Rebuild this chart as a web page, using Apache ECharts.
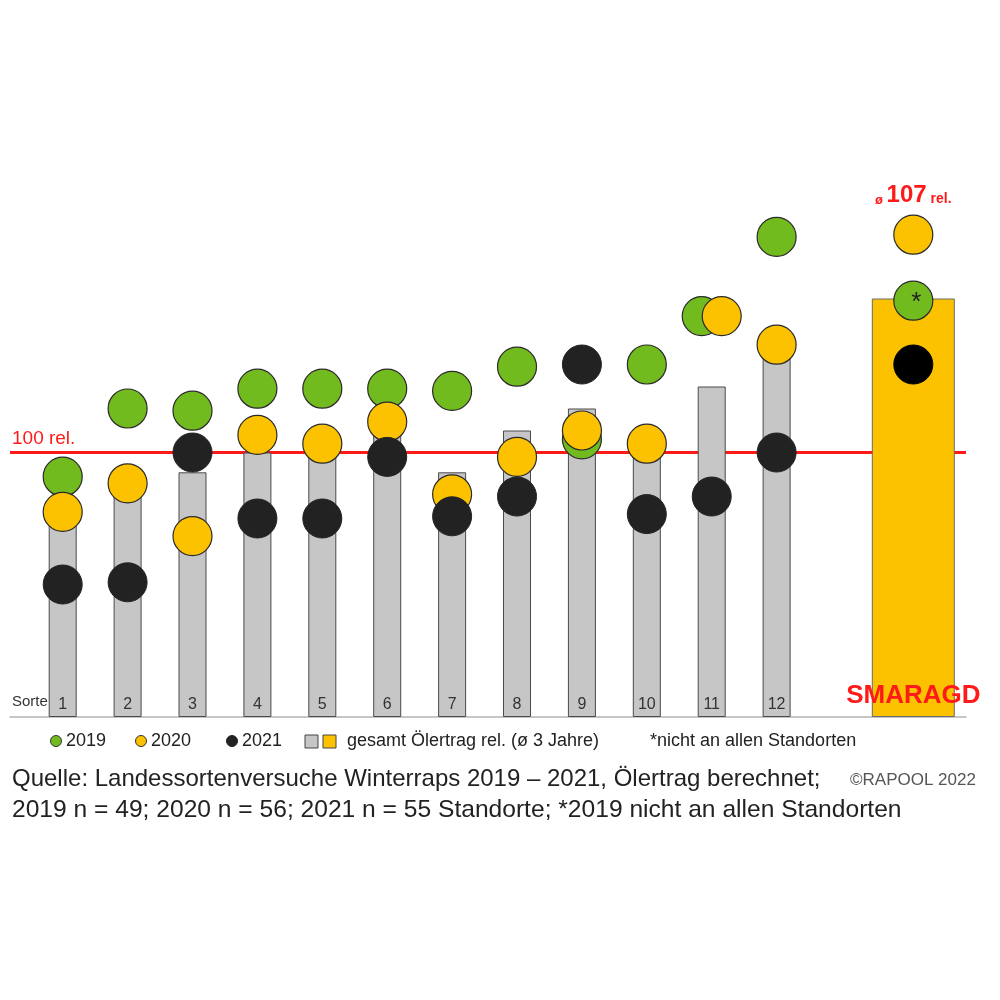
<!DOCTYPE html>
<html>
<head>
<meta charset="utf-8">
<script src="https://cdn.jsdelivr.net/npm/echarts@6/dist/echarts.min.js"></script>
<style>
html,body{margin:0;padding:0;background:#fff;}
#chart{width:1000px;height:1000px;}
</style>
</head>
<body>
<div id="chart"></div>
<script>
// ---- data ----
const sorten = ['1','2','3','4','5','6','7','8','9','10','11','12'];
const avgRel = [96.7, 98.2, 99.1, 100.0, 99.9, 101.0, 99.1, 101.0, 102.0, 100.5, 103.0, 104.8];
const rel2019 = [98.9, 102.0, 101.9, 102.9, 102.9, 102.9, 102.8, 103.9, 100.6, 104.0, 106.2, 109.8];
const rel2020 = [97.3, 98.6, 96.2, 100.8, 100.4, 101.4, 98.1, 99.8, 101.0, 100.4, 106.2, 104.9];
const rel2021 = [94.0, 94.1, 100.0, 97.0, 97.0, 99.8, 97.1, 98.0, 104.0, 97.2, 98.0, 100.0];
const smaragdName = 'SMARAGD';
const smaragdAvg = 107;
const smaragd2019 = 106.9;
const smaragd2020 = 109.9;
const smaragd2021 = 104.0;
const refLevel = 100;
const yearNames = ['2019','2020','2021'];
const legendBarText = 'gesamt Ölertrag rel. (ø 3 Jahre)';
const noteText = '*nicht an allen Standorten';
const sourceLine1 = 'Quelle: Landessortenversuche Winterraps 2019 – 2021, Ölertrag berechnet;';
const sourceLine2 = '2019 n = 49; 2020 n = 56; 2021 n = 55 Standorte; *2019 nicht an allen Standorten';
const copyright = '©RAPOOL 2022';

// ---- styling ----
const GREEN = '#72bb1f', YELLOW = '#fcc200', DARK = '#222222', GRAY = '#c6c6c6', RED = '#ff1a1a';
const FONT = 'Liberation Sans';
const smaragdPos = sorten.length + 2; // one empty slot after the last variety

const chart = echarts.init(document.getElementById('chart'), null, {renderer: 'canvas'});

function pts(arr) { return arr.map((v, i) => [i + 1, v]); }

const g19 = pts(rel2019).map((p, i) => i === 10 ? {value: p, symbolOffset: [-10, 0]} : {value: p});
const y20 = pts(rel2020).map((p, i) => i === 10 ? {value: p, symbolOffset: [10, 0]} : {value: p});
const b21 = pts(rel2021);

const smaragdPoints = [
  {value: [smaragdPos, smaragd2019], itemStyle: {color: GREEN, borderColor: '#2a2a2a', borderWidth: 1.2},
   label: {show: true, position: 'inside', formatter: '*', fontSize: 26, color: '#222', offset: [3, 2], fontFamily: FONT}},
  {value: [smaragdPos, smaragd2020], itemStyle: {color: YELLOW, borderColor: '#2a2a2a', borderWidth: 1.2},
   label: {show: true, position: 'top', distance: 7,
    formatter: '{a|ø }{b|' + smaragdAvg + '}{c| rel.}',
    rich: {a: {fontSize: 13, fontWeight: 'bold', color: RED, fontFamily: FONT, verticalAlign: 'bottom', padding: [0,0,1,0]},
           b: {fontSize: 24, fontWeight: 'bold', color: RED, fontFamily: FONT},
           c: {fontSize: 14, fontWeight: 'bold', color: RED, fontFamily: FONT, verticalAlign: 'bottom', padding: [0,0,1,0]}}}},
  {value: [smaragdPos, smaragd2021], itemStyle: {color: '#000', borderColor: '#000', borderWidth: 1}}
];

const xAxisBase = {type: 'value', splitLine: {show: false}, axisTick: {show: false}, axisLabel: {show: false}};

const option = {
  backgroundColor: '#fff',
  animation: false,
  grid: {left: 10, right: 34, top: 100.5, bottom: 283.5},
  xAxis: [
    Object.assign({}, xAxisBase, {min: 0.188, max: 14.918, axisLine: {show: true, onZero: false, lineStyle: {color: '#b4b4b4', width: 1.5}}}),
    Object.assign({}, xAxisBase, {min: 0.082, max: 14.812, axisLine: {show: false}})
  ],
  yAxis: {type: 'value', min: 88, max: 116, show: false, splitLine: {show: false}},
  series: [
    {
      type: 'line', data: [], z: 1,
      markLine: {silent: true, symbol: 'none', z: 1, label: {show: false},
        lineStyle: {color: RED, width: 3, type: 'solid'}, data: [{yAxis: refLevel}]}
    },
    {
      name: legendBarText, type: 'bar', xAxisIndex: 0, barWidth: 28, z: 2,
      data: avgRel.map((v, i) => [i + 1, v]),
      itemStyle: {color: GRAY, borderColor: '#4a4a4a', borderWidth: 1},
      label: {show: true, position: 'insideBottom', distance: 4, color: '#333', fontSize: 16, fontFamily: FONT,
        formatter: p => sorten[p.dataIndex]}
    },
    {
      name: smaragdName, type: 'bar', xAxisIndex: 1, barWidth: 83, z: 2,
      data: [[smaragdPos, smaragdAvg]],
      itemStyle: {color: YELLOW, borderColor: '#6a6a6a', borderWidth: 1},
      label: {show: true, position: 'insideBottom', distance: 8, color: RED, fontSize: 26, fontWeight: 'bold', fontFamily: FONT,
        formatter: smaragdName}
    },
    {
      name: yearNames[0], type: 'scatter', xAxisIndex: 0, symbol: 'circle', symbolSize: 39, z: 3, data: g19,
      itemStyle: {color: GREEN, borderColor: '#2a2a2a', borderWidth: 1.2, opacity: 1}
    },
    {
      name: yearNames[1], type: 'scatter', xAxisIndex: 0, symbol: 'circle', symbolSize: 39, z: 4, data: y20,
      itemStyle: {color: YELLOW, borderColor: '#2a2a2a', borderWidth: 1.2, opacity: 1}
    },
    {
      name: yearNames[2], type: 'scatter', xAxisIndex: 0, symbol: 'circle', symbolSize: 39, z: 5, data: b21,
      itemStyle: {color: DARK, borderColor: DARK, borderWidth: 1, opacity: 1}
    },
    {
      name: smaragdName + ' ' + yearNames.join('/'), type: 'scatter', xAxisIndex: 1, symbol: 'circle', symbolSize: 39, z: 5,
      data: smaragdPoints, itemStyle: {opacity: 1}
    }
  ],
  graphic: [
    {type: 'text', left: 12, top: 429, style: {text: refLevel + ' rel.', fill: RED, font: '19px "' + FONT + '"'}},
    {type: 'text', left: 12, top: 694, style: {text: 'Sorte', fill: '#333', font: '15px "' + FONT + '"'}},
    // legend
    {type: 'circle', shape: {cx: 56, cy: 741, r: 5.5}, style: {fill: GREEN, stroke: '#333', lineWidth: 1}},
    {type: 'text', left: 66, top: 732, style: {text: yearNames[0], fill: '#222', font: '18px "' + FONT + '"'}},
    {type: 'circle', shape: {cx: 141, cy: 741, r: 5.5}, style: {fill: YELLOW, stroke: '#333', lineWidth: 1}},
    {type: 'text', left: 151, top: 732, style: {text: yearNames[1], fill: '#222', font: '18px "' + FONT + '"'}},
    {type: 'circle', shape: {cx: 232, cy: 741, r: 5.5}, style: {fill: DARK, stroke: DARK, lineWidth: 1}},
    {type: 'text', left: 242, top: 732, style: {text: yearNames[2], fill: '#222', font: '18px "' + FONT + '"'}},
    {type: 'rect', shape: {x: 305, y: 735, width: 13, height: 13}, style: {fill: GRAY, stroke: '#444', lineWidth: 1}},
    {type: 'rect', shape: {x: 323, y: 735, width: 13, height: 13}, style: {fill: YELLOW, stroke: '#444', lineWidth: 1}},
    {type: 'text', left: 347, top: 732, style: {text: legendBarText, fill: '#222', font: '18px "' + FONT + '"'}},
    {type: 'text', left: 650, top: 732, style: {text: noteText, fill: '#222', font: '18px "' + FONT + '"'}},
    // source
    {type: 'text', left: 12, top: 767, style: {text: sourceLine1, fill: '#222', font: '24px "' + FONT + '"'}},
    {type: 'text', left: 12, top: 798, style: {text: sourceLine2, fill: '#222', font: '24.6px "' + FONT + '"'}},
    {type: 'text', left: 850, top: 772, style: {text: copyright, fill: '#555', font: '17px "' + FONT + '"'}}
  ]
};
chart.setOption(option);
</script>
</body>
</html>
